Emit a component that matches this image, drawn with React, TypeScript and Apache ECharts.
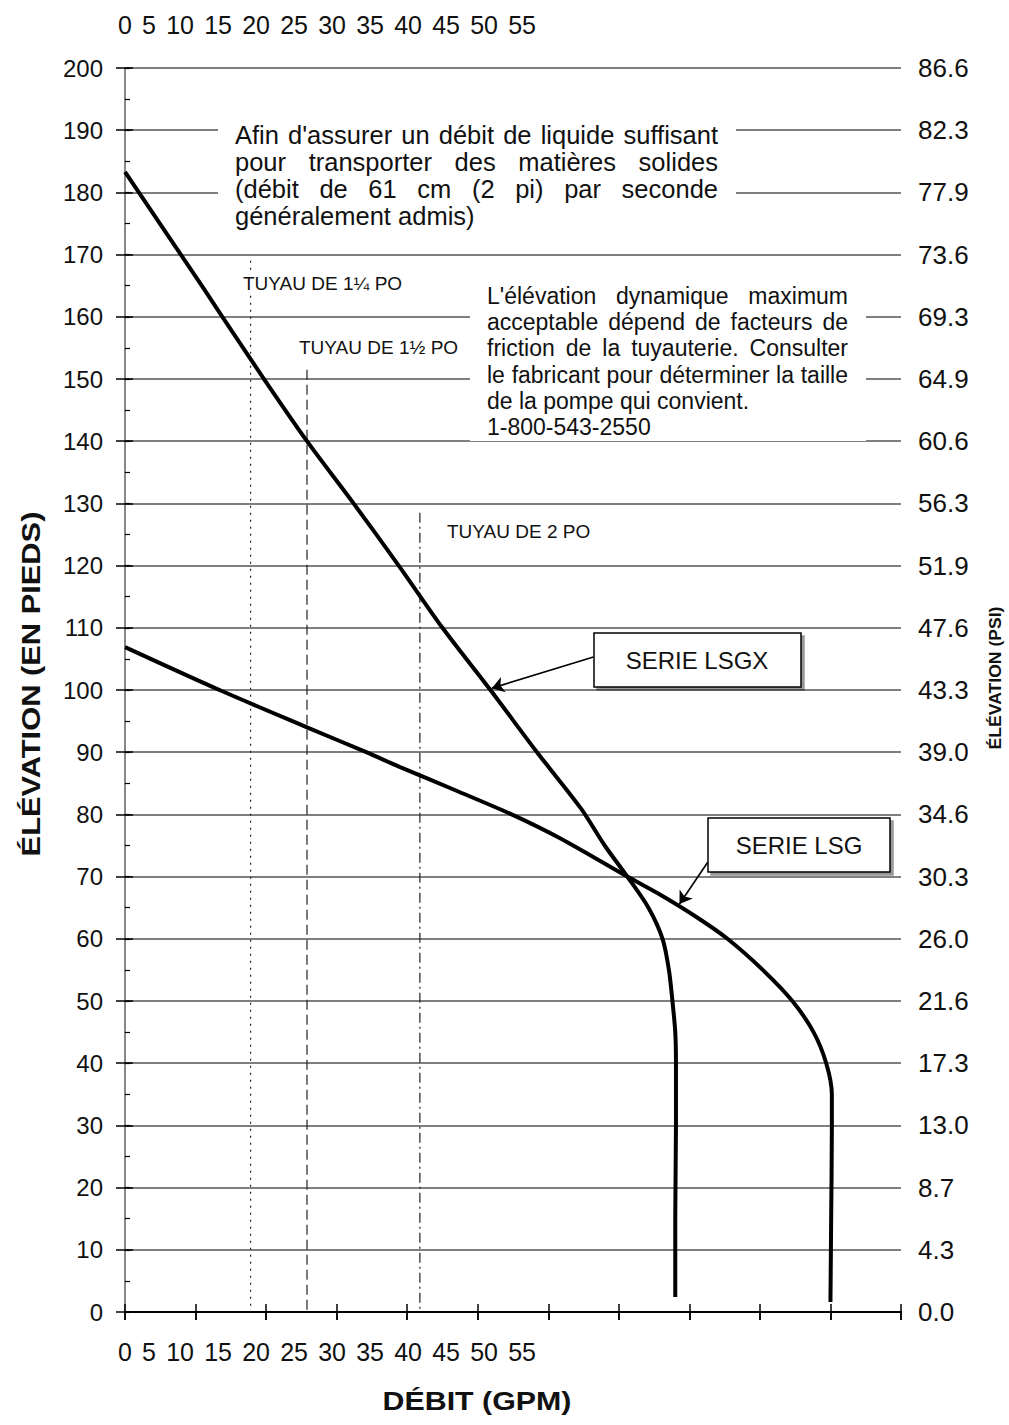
import React, { useEffect, useRef } from 'react';
import * as echarts from 'echarts';

const W = 1009;
const H = 1425;
const FONT = '"Liberation Sans", Arial, Helvetica, sans-serif';

// ---- Data ----
const xTickLabels = ['0', '5', '10', '15', '20', '25', '30', '35', '40', '45', '50', '55'];
const psiLabels = ['0.0', '4.3', '8.7', '13.0', '17.3', '21.6', '26.0', '30.3', '34.6', '39.0', '43.3', '47.6', '51.9', '56.3', '60.6', '64.9', '69.3', '73.6', '77.9', '82.3', '86.6'];

// SERIE LSGX : débit (GPM) / élévation (pieds)
const lsgxFlow = [0, 5.5, 6.9, 9.85, 12.9, 16.2, 19.4, 22.5, 25.9, 29.2, 32.3, 34.0, 35.6, 37.1, 38.1, 38.55, 38.8, 39.0, 39.05, 39.05, 39.0, 39.0];
const lsgxHead = [183.3, 164.8, 160, 150, 140, 130, 120, 110, 100, 90, 81, 75, 70, 65, 60, 55, 50, 45, 40, 30, 15, 2.4];

// SERIE LSG
const lsgFlow = [0, 6.7, 12.9, 17.1, 19.5, 23.5, 27.4, 30.8, 35.6, 38.0, 40.5, 42.7, 45.2, 47.3, 48.8, 49.7, 50.1, 50.1, 50.05, 50.0];
const lsgHead = [106.9, 100, 94, 90, 87.6, 83.8, 80, 76.2, 70, 67.0, 63.5, 60, 55, 50, 45, 40, 35, 30, 15, 1.6];

// Tuyaux: débit à 61 cm/s (2 pi/s)
const pipeNames = ['TUYAU DE 1¼ PO', 'TUYAU DE 1½ PO', 'TUYAU DE 2 PO'];
const pipeFlow = [8.9, 12.9, 20.9];
const pipeTop = [169, 151.5, 128.5];

const block1Lines = [
  "Afin d'assurer un débit de liquide suffisant",
  'pour transporter des matières solides',
  '(débit de 61 cm (2 pi) par seconde',
  'généralement admis)',
];
const block2Lines = [
  "L'élévation dynamique maximum",
  'acceptable dépend de facteurs de',
  'friction de la tuyauterie.  Consulter',
  'le fabricant pour déterminer la taille',
  'de la pompe qui convient.',
  '1-800-543-2550',
];

let measureCtx: CanvasRenderingContext2D | null = null;
function measure(text: string, font: string): number {
  if (!measureCtx) measureCtx = document.createElement('canvas').getContext('2d');
  measureCtx!.font = font;
  return measureCtx!.measureText(text).width;
}

function textEl(text: string, x: number, y: number, font: string, align = 'left', extra: any = {}) {
  return {
    type: 'text',
    x,
    y,
    z: 110,
    ...extra,
    style: { text, font, fill: '#111', textAlign: align, textVerticalAlign: 'middle' },
  };
}

function justifyWords(words: string[], x0: number, x1: number, y: number, font: string, justify: boolean) {
  if (!justify || words.length === 1) {
    return [textEl(words.join(' '), x0, y, font)];
  }
  const widths = words.map((w) => measure(w, font));
  const total = widths.reduce((a, b) => a + b, 0);
  const gap = (x1 - x0 - total) / (words.length - 1);
  const els: any[] = [];
  let x = x0;
  words.forEach((w, i) => {
    els.push(textEl(w, x, y, font));
    x += widths[i] + gap;
  });
  return els;
}

function fitText(text: string, cx: number, cy: number, font: string, length: number, rotation = 0) {
  const s = length / measure(text, font);
  return textEl(text, cx, cy, font, 'center', { rotation, scaleX: s, originX: 0, originY: 0 });
}

export default function App() {
  const ref = useRef<HTMLDivElement>(null);

  useEffect(() => {
    if (!ref.current) return;
    const chart = echarts.init(ref.current, undefined, { renderer: 'svg', width: W, height: H });

    const f24 = `24px ${FONT}`;
    const fB1 = `25.5px ${FONT}`;
    const fB2 = `23px ${FONT}`;
    const f19 = `19px ${FONT}`;

    const graphics: any[] = [];
    // white backgrounds interrupting the grid lines
    graphics.push({ type: 'rect', z: 100, shape: { x: 218, y: 112, width: 518, height: 114 }, style: { fill: '#fff' } });
    graphics.push({ type: 'rect', z: 100, shape: { x: 470, y: 283, width: 396, height: 158 }, style: { fill: '#fff' } });
    graphics.push({ type: 'rect', z: 100, shape: { x: 238, y: 272, width: 172, height: 22 }, style: { fill: '#fff' } });

    block1Lines.forEach((line, i) => {
      graphics.push(...justifyWords(line.split(/\s+/), 235, 718, 135 + i * 27, fB1, i < 3));
    });
    block2Lines.forEach((line, i) => {
      graphics.push(...justifyWords(line.split(/\s+/), 487, 848, 296 + i * 26.2, fB2, i < 4));
    });

    const pipeLabelPos = [[243, 283], [299, 347], [447, 531]];
    pipeNames.forEach((n, i) => {
      graphics.push(textEl(n, pipeLabelPos[i][0], pipeLabelPos[i][1], f19));
    });

    // x tick labels (crammed at left, as in the original)
    const fX = `25px ${FONT}`;
    graphics.push(...justifyWords(xTickLabels, 118, 536, 25, fX, true));
    graphics.push(...justifyWords(xTickLabels, 118, 536, 1352, fX, true));

    // axis titles
    graphics.push(fitText('ÉLÉVATION (EN PIEDS)', 31, 684, `bold 26px ${FONT}`, 345, Math.PI / 2));
    graphics.push(fitText('DÉBIT (GPM)', 477, 1401, `bold 26px ${FONT}`, 189));
    graphics.push(fitText('ÉLÉVATION (PSI)', 996, 678, `bold 16px ${FONT}`, 143, Math.PI / 2));

    // callout boxes
    const boxStyle = { fill: '#fff', stroke: '#000', lineWidth: 1.5, shadowColor: 'rgba(0,0,0,0.4)', shadowOffsetX: 3, shadowOffsetY: 3, shadowBlur: 0 };
    graphics.push({ type: 'rect', z: 100, shape: { x: 594, y: 633, width: 207, height: 54 }, style: boxStyle });
    graphics.push(textEl('SERIE LSGX', 697, 660, f24, 'center'));
    graphics.push({ type: 'rect', z: 100, shape: { x: 708, y: 818, width: 182, height: 54 }, style: boxStyle });
    graphics.push(textEl('SERIE LSG', 799, 845, f24, 'center'));

    const pipeStyles: any[] = [[2, 5], [10, 5], [10, 4, 2, 4]];

    const option: any = {
      animation: false,
      backgroundColor: '#fff',
      grid: { left: 125, right: W - 901, top: 68, bottom: H - 1312, containLabel: false },
      xAxis: [
        {
          type: 'value', min: 0, max: 55, interval: 5, position: 'bottom',
          axisLine: { show: true, lineStyle: { color: '#000', width: 2 } },
          axisTick: { show: true, length: 8, lineStyle: { color: '#000', width: 1.5 } },
          axisLabel: { show: false },
          splitLine: { show: false },
        },
        {
          type: 'value', min: 0, max: 55, interval: 5, position: 'top',
          axisLine: { show: true, lineStyle: { color: '#000', width: 2 } },
          axisTick: { show: true, length: 8, lineStyle: { color: '#000', width: 1.5 } },
          axisLabel: { show: false },
          splitLine: { show: false },
        },
        {
          type: 'value', min: 0, max: 55, interval: 5, position: 'top',
          axisLine: { show: false },
          axisTick: { show: true, inside: true, length: 8, lineStyle: { color: '#000', width: 1.5 } },
          axisLabel: { show: false },
          splitLine: { show: false },
        },
      ],
      yAxis: [
        {
          type: 'value', min: 0, max: 200, interval: 10, position: 'left',
          axisLine: { show: true, lineStyle: { color: '#000', width: 2 } },
          axisTick: { show: true, length: 9, lineStyle: { color: '#000', width: 1.5 } },
          axisLabel: { show: true, fontSize: 24, fontFamily: FONT, color: '#111', margin: 22 },
          splitLine: { show: true, lineStyle: { color: '#555', width: 1.5 } },
        },
        {
          type: 'value', min: 0, max: 200, interval: 10, position: 'right',
          axisLine: { show: true, lineStyle: { color: '#888', width: 2 } },
          axisTick: { show: true, length: 8, lineStyle: { color: '#000', width: 1.5 } },
          axisLabel: {
            show: true, fontSize: 26, fontFamily: FONT, color: '#111', margin: 17,
            formatter: (v: number) => psiLabels[Math.round(v / 10)] ?? '',
          },
          splitLine: { show: false },
        },
        {
          type: 'value', min: 0, max: 200, interval: 5, position: 'left',
          axisLine: { show: false },
          axisTick: { show: true, inside: true, length: 5, lineStyle: { color: '#000', width: 1.2 } },
          axisLabel: { show: false },
          splitLine: { show: false },
        },
      ],
      graphic: graphics,
      series: [
        ...pipeFlow.map((x, i) => ({
          type: 'line', xAxisIndex: 0, yAxisIndex: 0, symbol: 'none', silent: true, z: 3,
          data: [[x, pipeTop[i]], [x, 0]],
          lineStyle: { color: '#222', width: 1.2, type: pipeStyles[i] },
        })),
        {
          name: 'SERIE LSGX', type: 'line', xAxisIndex: 0, yAxisIndex: 0, symbol: 'none', smooth: 0.3, z: 5,
          data: lsgxFlow.map((x, i) => [x, lsgxHead[i]]),
          lineStyle: { color: '#000', width: 4 },
          markLine: {
            silent: true, animation: false, symbol: ['none', 'arrow'], symbolSize: 12,
            label: { show: false },
            lineStyle: { color: '#000', width: 1.6, type: 'solid' },
            data: [
              [{ coord: [33.2, 105.3] }, { coord: [26.0, 100.3] }],
              [{ coord: [41.3, 72.3] }, { coord: [39.3, 65.6] }],
            ],
          },
        },
        {
          name: 'SERIE LSG', type: 'line', xAxisIndex: 0, yAxisIndex: 0, symbol: 'none', smooth: 0.3, z: 5,
          data: lsgFlow.map((x, i) => [x, lsgHead[i]]),
          lineStyle: { color: '#000', width: 4 },
        },
      ],
    };

    chart.setOption(option);
    return () => chart.dispose();
  }, []);

  return (
    <div
      ref={ref}
      style={{ position: 'fixed', left: 0, top: 0, width: W, height: H, background: '#fff' }}
    />
  );
}
